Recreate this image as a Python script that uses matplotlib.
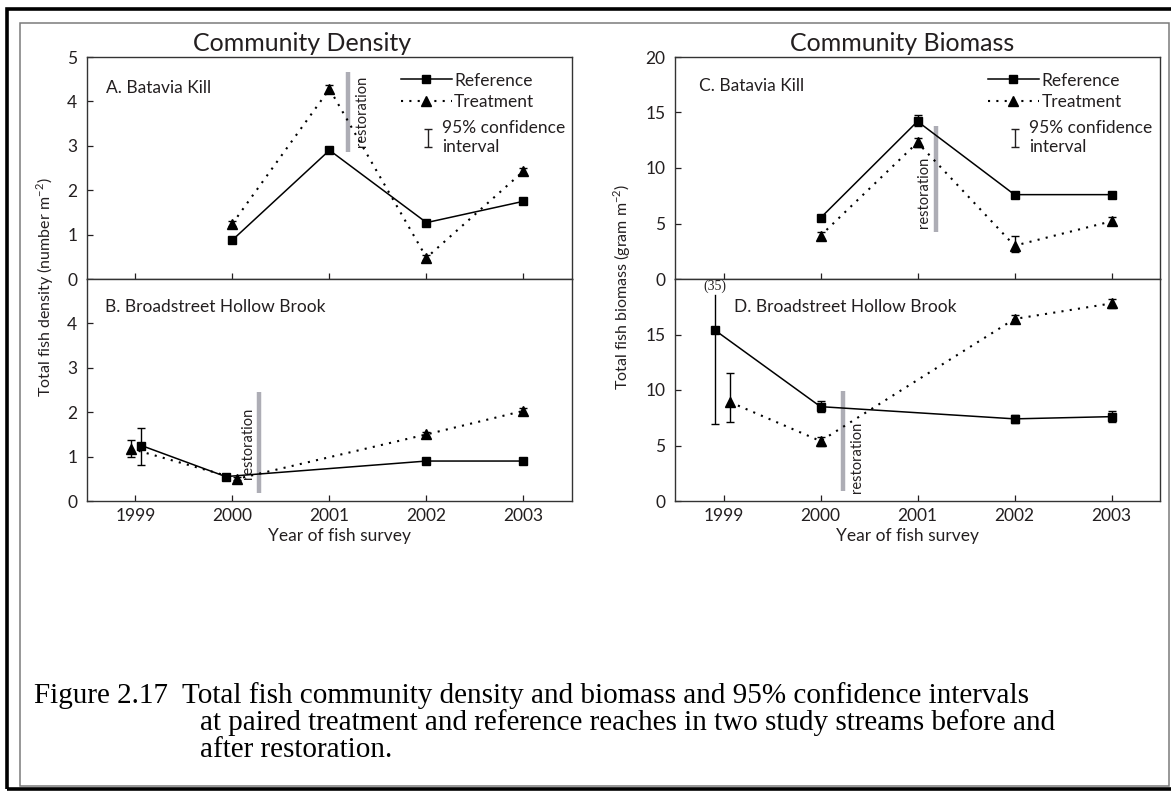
import matplotlib
matplotlib.use('Agg')
import matplotlib.pyplot as plt
from matplotlib.lines import Line2D
from matplotlib.path import Path
from matplotlib.patches import Rectangle

plt.rcParams['font.family'] = ['Lato', 'DejaVu Sans']
plt.rcParams['mathtext.fontset'] = 'custom'
plt.rcParams['mathtext.rm'] = 'Lato'

INK = '#231f20'
GREY = '#adadb5'

# ---- data ----
years = [2000, 2001, 2002, 2003]

# A. Batavia Kill, density (number m-2)
dens_a_ref = [0.88, 2.90, 1.27, 1.75]
dens_a_ref_lo = [0.05, 0.05, 0.05, 0.05]
dens_a_ref_hi = [0.05, 0.05, 0.05, 0.05]
dens_a_trt = [1.25, 4.28, 0.48, 2.43]
dens_a_trt_lo = [0.06, 0.08, 0.06, 0.06]
dens_a_trt_hi = [0.06, 0.08, 0.06, 0.06]

# B. Broadstreet Hollow Brook, density
x_b_ref = [1999.06, 1999.93, 2002, 2003]
dens_b_ref = [1.25, 0.55, 0.90, 0.90]
dens_b_ref_lo = [0.45, 0.04, 0.04, 0.04]
dens_b_ref_hi = [0.40, 0.04, 0.04, 0.04]
x_b_trt = [1998.95, 2000.05, 2002, 2003]
dens_b_trt = [1.18, 0.50, 1.50, 2.03]
dens_b_trt_lo = [0.18, 0.03, 0.05, 0.06]
dens_b_trt_hi = [0.20, 0.03, 0.06, 0.06]

# C. Batavia Kill, biomass (gram m-2)
bio_c_ref = [5.5, 14.2, 7.6, 7.6]
bio_c_ref_lo = [0.3, 0.4, 0.25, 0.25]
bio_c_ref_hi = [0.3, 0.6, 0.25, 0.25]
bio_c_trt = [3.9, 12.3, 3.0, 5.2]
bio_c_trt_lo = [0.3, 0.4, 0.6, 0.3]
bio_c_trt_hi = [0.3, 0.4, 0.9, 0.4]

# D. Broadstreet Hollow Brook, biomass
x_d_ref = [1998.91, 2000, 2002, 2003]
bio_d_ref = [15.4, 8.5, 7.4, 7.6]
bio_d_ref_lo = [8.5, 0.5, 0.35, 0.5]
bio_d_ref_hi = [0.0, 0.5, 0.35, 0.5]
bio_d_ref_top = 18.6          # bar runs off the scale, true upper limit 35
x_d_trt = [1999.07, 2000, 2002, 2003]
bio_d_trt = [8.9, 5.4, 16.4, 17.8]
bio_d_trt_lo = [1.8, 0.4, 0.4, 0.4]
bio_d_trt_hi = [2.6, 0.4, 0.4, 0.4]

# restoration marker per panel: x, bottom, top
restor_x = [2001.19, 2000.27, 2001.19, 2000.23]
restor_lo = [2.86, 0.18, 4.25, 0.9]
restor_hi = [4.66, 2.46, 13.75, 9.95]

tick_years = [1999, 2000, 2001, 2002, 2003]

caption = ['Figure 2.17  Total fish community density and biomass and 95% confidence intervals',
           'at paired treatment and reference reaches in two study streams before and',
           'after restoration.']


def draw_series(ax, xr, yr, rlo, rhi, xt, yt, tlo, thi):
    ax.errorbar(xr, yr, yerr=[rlo, rhi], fmt='s', ls='-', color='black',
                ms=5.5, lw=1.1, elinewidth=1, capsize=3, capthick=1, zorder=3)
    ax.errorbar(xt, yt, yerr=[tlo, thi], fmt='^', ls=(0, (1, 3)), color='black',
                ms=6.5, lw=1.5, elinewidth=1, capsize=3, capthick=1, zorder=3)


def style_axes(ax, ymax, yticks):
    ax.set_xlim(1998.5, 2003.5)
    ax.set_ylim(0, ymax)
    ax.set_xticks(tick_years)
    ax.set_yticks(yticks)
    ax.tick_params(axis='both', direction='in', length=4.5, width=0.9,
                   colors=INK, labelsize=12.5)
    ax.tick_params(axis='y', pad=7)
    ax.tick_params(axis='x', pad=5)
    for s in ax.spines.values():
        s.set_linewidth(1.0)
        s.set_color('#333333')


def restoration(ax, i, tx, ty):
    ax.vlines(restor_x[i], restor_lo[i], restor_hi[i], color=GREY, lw=3.2, zorder=2)
    ax.text(tx, ty, 'restoration', rotation=90, ha='center', va='center',
            fontsize=10.5, color=INK)


def legends(ax, x0):
    h1 = [Line2D([], [], color='black', marker='s', ms=5.5, lw=1.1),
          Line2D([], [], color='black', marker='^', ms=6.5, lw=1.5, ls=(0, (1, 3)))]
    leg = ax.legend(h1, ['Reference', 'Treatment'], loc='upper left',
                    bbox_to_anchor=(x0, 0.93), frameon=False, fontsize=12.5,
                    handlelength=2.9, handletextpad=0.15, labelspacing=0.3,
                    borderpad=0, borderaxespad=0, labelcolor=INK)
    ax.add_artist(leg)
    ci = Path([(-0.4, 1), (0.4, 1), (0, 1), (0, -1), (-0.4, -1), (0.4, -1)],
              [Path.MOVETO, Path.LINETO, Path.MOVETO, Path.LINETO,
               Path.MOVETO, Path.LINETO])
    h2 = [Line2D([], [], ls='none', marker=ci, ms=13, mew=1, color=INK)]
    ax.legend(h2, ['95% confidence\ninterval'], loc='upper left',
              bbox_to_anchor=(x0 + 0.045, 0.715), frameon=False, fontsize=12.5,
              handlelength=0.6, handletextpad=0.5, borderpad=0, borderaxespad=0,
              labelcolor=INK)


fig = plt.figure(figsize=(11.71, 7.97), dpi=100)

W, H = 1171.0, 797.0
lx, rx, aw = 87 / W, 675 / W, 485 / W
ah = 222 / H
top_b = 1 - 279 / H
bot_b = 1 - 501 / H

axA = fig.add_axes([lx, top_b, aw, ah])
axB = fig.add_axes([lx, bot_b, aw, ah])
axC = fig.add_axes([rx, top_b, aw, ah])
axD = fig.add_axes([rx, bot_b, aw, ah])

# panel A
draw_series(axA, years, dens_a_ref, dens_a_ref_lo, dens_a_ref_hi,
            years, dens_a_trt, dens_a_trt_lo, dens_a_trt_hi)
style_axes(axA, 5, [0, 1, 2, 3, 4, 5])
axA.tick_params(axis='x', labelbottom=False)
restoration(axA, 0, 2001.33, 3.77)
axA.text(0.039, 0.86, 'A. Batavia Kill', transform=axA.transAxes,
         fontsize=12.5, color=INK, va='center')
axA.text(0.443, 1.063, 'Community Density', transform=axA.transAxes,
         fontsize=18, color=INK, ha='center', va='center')
legends(axA, 0.648)

# panel B
draw_series(axB, x_b_ref, dens_b_ref, dens_b_ref_lo, dens_b_ref_hi,
            x_b_trt, dens_b_trt, dens_b_trt_lo, dens_b_trt_hi)
style_axes(axB, 5, [0, 1, 2, 3, 4])
restoration(axB, 1, 2000.155, 1.3)
axB.text(0.037, 0.874, 'B. Broadstreet Hollow Brook', transform=axB.transAxes,
         fontsize=12.5, color=INK, va='center')
axB.set_xlabel('Year of fish survey', fontsize=12.5, color=INK)
axB.xaxis.set_label_coords(0.52, -0.12)

# panel C
draw_series(axC, years, bio_c_ref, bio_c_ref_lo, bio_c_ref_hi,
            years, bio_c_trt, bio_c_trt_lo, bio_c_trt_hi)
style_axes(axC, 20, [0, 5, 10, 15, 20])
axC.tick_params(axis='x', labelbottom=False)
restoration(axC, 2, 2001.07, 7.8)
axC.text(0.049, 0.869, 'C. Batavia Kill', transform=axC.transAxes,
         fontsize=12.5, color=INK, va='center')
axC.text(0.469, 1.063, 'Community Biomass', transform=axC.transAxes,
         fontsize=18, color=INK, ha='center', va='center')
legends(axC, 0.646)

# panel D
draw_series(axD, x_d_ref, bio_d_ref, bio_d_ref_lo, bio_d_ref_hi,
            x_d_trt, bio_d_trt, bio_d_trt_lo, bio_d_trt_hi)
axD.plot([x_d_ref[0], x_d_ref[0]], [bio_d_ref[0], bio_d_ref_top],
         color='black', lw=1, zorder=2)
style_axes(axD, 20, [0, 5, 10, 15])
restoration(axD, 3, 2000.38, 3.9)
axD.text(x_d_ref[0], bio_d_ref_top + 0.75, '(35)', ha='center', va='center',
         fontsize=10, color=INK, family='Liberation Serif')
axD.text(0.121, 0.874, 'D. Broadstreet Hollow Brook', transform=axD.transAxes,
         fontsize=12.5, color=INK, va='center')
axD.set_xlabel('Year of fish survey', fontsize=12.5, color=INK)
axD.xaxis.set_label_coords(0.48, -0.12)

# shared y labels
fig.text(45 / W, 1 - 287 / H, 'Total fish density (number m$^{\\mathregular{-2}}$)',
         rotation=90, ha='center', va='center', fontsize=11.5, color=INK)
fig.text(622 / W, 1 - 287 / H, 'Total fish biomass (gram m$^{\\mathregular{-2}}$)',
         rotation=90, ha='center', va='center', fontsize=11.5, color=INK)

# caption, hanging indent
cap_x = [34, 200, 200]
cap_base = [703, 730, 757]
for txt, cx, cy in zip(caption, cap_x, cap_base):
    fig.text(cx / W, 1 - cy / H, txt, fontsize=21, family='Liberation Serif',
             color='black', va='baseline')

# page frames
fig.patches.append(Rectangle((20 / W, 1 - 786 / H), 1149 / W, 763 / H,
                             transform=fig.transFigure, fill=False,
                             ec='#7a7a7a', lw=1.1))
fig.patches.append(Rectangle((6.5 / W, 1 - 788.5 / H), 1175 / W, 780 / H,
                             transform=fig.transFigure, fill=False,
                             ec='black', lw=2.6))

fig.savefig('out.png', dpi=100)
